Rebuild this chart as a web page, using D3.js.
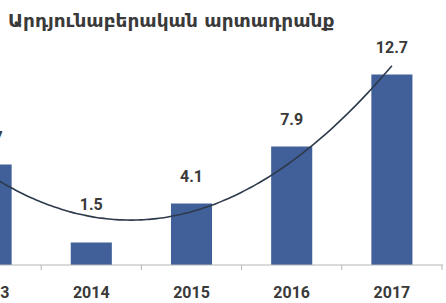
<!DOCTYPE html>
<html>
<head>
<meta charset="utf-8">
<script src="https://cdn.jsdelivr.net/npm/d3@7"></script>
<style>
  html, body { margin: 0; padding: 0; background: #fff; }
  svg { display: block; }
</style>
</head>
<body>
<svg id="chart"></svg>
<script>
// data
var title = "Արդյունաբերական արտադրանք";
var years = ["2013", "2014", "2015", "2016", "2017"];
var values = [6.7, 1.5, 4.1, 7.9, 12.7];
var valueLabels = ["6.7", "1.5", "4.1", "7.9", "12.7"];

var width = 446, height = 303;
var baseY = 265;

var svg = d3.select("#chart")
  .attr("width", width)
  .attr("height", height);

// chart is cropped on the left, so the first band starts off-canvas
var x = d3.scaleBand()
  .domain(years)
  .range([-59, 442])
  .paddingInner(0.59)
  .paddingOuter(0.295);

var y = d3.scaleLinear()
  .domain([0, 14])
  .range([baseY, baseY - 14 * 15]);

// title
svg.append("text")
  .attr("x", 8)
  .attr("y", 27)
  .style("font-family", "DejaVu Sans")
  .style("font-weight", "bold")
  .style("font-size", "18.5px")
  .style("fill", "#3a3a3a")
  .text(title);

// bars
svg.append("g")
  .selectAll("rect")
  .data(values)
  .join("rect")
    .attr("x", function (d, i){ return x(years[i]); })
    .attr("y", function (d){ return y(d); })
    .attr("width", x.bandwidth())
    .attr("height", function (d){ return baseY - y(d); })
    .style("fill", "#41609a");

// quadratic trendline (least squares on 1..n), like a spreadsheet trendline
var n = values.length;
var ts = d3.range(n).map(function (i){ return i - (n - 1) / 2; });
var mean = d3.mean(values);
var b = d3.sum(ts, function (t, i){ return t * values[i]; }) / d3.sum(ts, function (t){ return t * t; });
var t2m = d3.mean(ts, function (t){ return t * t; });
var c = d3.sum(ts, function (t, i){ return (t * t - t2m) * values[i]; }) /
        d3.sum(ts, function (t){ return (t * t - t2m) * (t * t - t2m); });
function trend(t){ return mean + b * t + c * (t * t - t2m); }

var step = x.step();
var center0 = x(years[0]) + x.bandwidth() / 2;
var tx = d3.scaleLinear().domain([ts[0], ts[n - 1]]).range([center0, center0 + step * (n - 1)]);
var samples = d3.range(ts[0], ts[n - 1] + 0.001, 0.05);

svg.append("path")
  .datum(samples)
  .attr("d", d3.line()
    .x(function (t){ return tx(t); })
    .y(function (t){ return y(trend(t)); })
    .curve(d3.curveBasis))
  .style("fill", "none")
  .style("stroke", "#2d3a4c")
  .style("stroke-width", 1.6);

// value labels, kept clear of the trendline
svg.append("g")
  .selectAll("text")
  .data(values)
  .join("text")
    .attr("x", function (d, i){ return x(years[i]) + x.bandwidth() / 2; })
    .attr("y", function (d, i){ return Math.min(y(d) - 22, y(trend(ts[i])) - 7); })
    .attr("text-anchor", "middle")
    .style("font-family", "Roboto")
    .style("font-weight", "bold")
    .style("font-size", "16px")
    .style("fill", "#3a3a3a")
    .text(function (d, i){ return valueLabels[i]; });

// x axis
var axis = svg.append("g")
  .attr("transform", "translate(0," + baseY + ")");

axis.append("line")
  .attr("x1", 0)
  .attr("x2", 443)
  .style("stroke", "#b5b5b5")
  .style("stroke-width", 1);

axis.selectAll("line.tick")
  .data(years)
  .join("line")
    .attr("class", "tick")
    .attr("x1", function (d){ return x(d) + x.bandwidth() / 2 + step / 2; })
    .attr("x2", function (d){ return x(d) + x.bandwidth() / 2 + step / 2; })
    .attr("y1", 0)
    .attr("y2", 5)
    .style("stroke", "#b5b5b5");

axis.selectAll("text")
  .data(years)
  .join("text")
    .attr("x", function (d){ return x(d) + x.bandwidth() / 2; })
    .attr("y", 33)
    .attr("text-anchor", "middle")
    .style("font-family", "Roboto")
    .style("font-weight", "bold")
    .style("font-size", "16px")
    .style("fill", "#3a3a3a")
    .text(function (d){ return d; });
</script>
</body>
</html>
